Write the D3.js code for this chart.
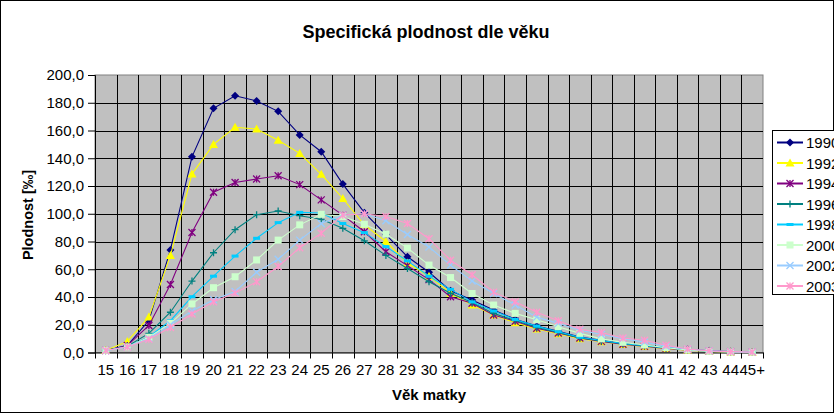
<!DOCTYPE html>
<html>
<head>
<meta charset="utf-8">
<script src="https://cdn.jsdelivr.net/npm/d3@7"></script>
<style>
  body { margin: 0; background: #fff; }
  svg { font-family: Arial, "Liberation Sans", sans-serif; }
</style>
</head>
<body>
<div id="chart"></div>
<script>
const ages = ["15","16","17","18","19","20","21","22","23","24","25","26","27","28","29","30",
  "31","32","33","34","35","36","37","38","39","40","41","42","43","44","45+"];
const years = ["1990","1992","1994","1996","1998","2000","2002","2003"];
const yTicks = [0, 20, 40, 60, 80, 100, 120, 140, 160, 180, 200];

const v1990 = [1.5,5,23,73.9,141,176,185,181.3,173.8,156.8,144.7,121.4,100.8,85,69,57.8,44.5,37.8,30.6,24,19,15.3,11.2,8.8,6.7,5.1,3.6,2.3,1.3,0.7,0.4];
const v1992 = [1.5,8,25.5,70,128.6,150,162.3,161,153,143.5,128.4,111,92,80,64.5,55,42.7,34.2,27,21.5,17,13.5,10,7.8,5.8,4.3,2.8,1.6,0.8,0.4,0.2];
const v1994 = [1.5,5,19.5,49,86.5,115.5,122.5,125,127.4,121,110,99,87,72.6,62.6,52.5,40.2,35.5,27,22.5,17.5,14,10.5,8,6,4.5,3,1.8,1,0.5,0.3];
const v1996 = [1.5,4.5,13.8,29,51.5,71.9,88.5,99.3,102,98.6,96,89.5,80.5,70,60.5,51,42.7,36,28.2,23,18,14.5,10.5,8.3,6.3,4.8,3.3,2,1,0.5,0.3];
const v1998 = [1.5,4,11.4,22.9,40.2,55,69.5,82.3,93.6,101,100.5,93,86.4,76.3,66,55,45.5,36.5,29.9,23.8,19,15,11,8.7,6.5,5,3.5,2,1,0.5,0.3];
const v2000 = [1.5,4,11,21,35,46.7,54.6,66.7,81,92,99.6,98,92.4,85.3,75.3,63,54,42.5,34.2,28.2,23.6,18.6,13.8,9.8,7.3,5.4,3.5,1.8,0.8,0.4,0.2];
const v2002 = [1.5,4,10,20,30,38,44,57.8,67.2,81,93,99,100,95,85,76,63,51.5,42.5,34.2,25.5,21,16,13,10,7.5,4.5,2.3,1.2,0.6,0.3];
const v2003 = [1.5,4,9.5,18,27.7,36.6,42.8,51,62,75.5,86,99,100,98,93,82,66.5,56,43.5,36.6,29,22.9,16.8,14.4,10.5,8.8,5.2,2.5,1.2,0.6,0.3];
const seriesValues = [v1990, v1992, v1994, v1996, v1998, v2000, v2002, v2003];

const colors = ["#000080", "#ffff00", "#800080", "#008080", "#00ccff", "#ccffcc", "#99ccff", "#ff99cc"];
const markers = ["diamond", "triangle", "star", "plus", "dash", "square", "cross", "star"];

const width = 834, height = 413;
const plot = { left: 95, right: 763, top: 75, bottom: 352.5 };
const font = "Arial, 'Liberation Sans', sans-serif";

const svg = d3.select("#chart").append("svg")
  .attr("width", width).attr("height", height);

// rámeček grafu
svg.append("rect").attr("x", 0.5).attr("y", 0.5)
  .attr("width", width - 1).attr("height", height - 1)
  .attr("fill", "#fff").attr("stroke", "#000");

const x = d3.scaleBand().domain(ages).range([plot.left, plot.right]);
const y = d3.scaleLinear().domain([0, 200]).range([plot.bottom, plot.top]);

// plocha grafu
svg.append("rect")
  .attr("x", plot.left).attr("y", plot.top)
  .attr("width", plot.right - plot.left).attr("height", plot.bottom - plot.top)
  .attr("fill", "#c0c0c0").attr("stroke", "#808080");

// mřížka
const grid = svg.append("g").attr("stroke", "#000").attr("stroke-width", 1);
grid.selectAll("line.h").data(yTicks.filter(d => d > 0 && d < 200)).enter().append("line")
  .attr("x1", plot.left).attr("x2", plot.right)
  .attr("y1", d => Math.round(y(d)) + 0.5).attr("y2", d => Math.round(y(d)) + 0.5);
grid.selectAll("line.v").data(ages.slice(1)).enter().append("line")
  .attr("x1", d => Math.round(x(d)) + 0.5).attr("x2", d => Math.round(x(d)) + 0.5)
  .attr("y1", plot.top).attr("y2", plot.bottom);

// osa y
const yAxis = svg.append("g").attr("transform", `translate(${plot.left},0)`)
  .call(d3.axisLeft(y).tickValues(yTicks).tickSize(7).tickPadding(4)
    .tickFormat(d => d.toFixed(1).replace(".", ",")));
yAxis.select(".domain").attr("stroke", "#000");
yAxis.selectAll("text").attr("font-size", "15px").attr("fill", "#000").attr("font-family", font);

// osa x
const xAxis = svg.append("g").attr("transform", `translate(0,${plot.bottom})`)
  .call(d3.axisBottom(x).tickSize(0).tickPadding(12));
xAxis.select(".domain").attr("stroke", "#000");
xAxis.selectAll("text").attr("font-size", "15px").attr("fill", "#000").attr("font-family", font);
xAxis.selectAll("line.b").data(ages.concat(["end"])).enter().append("line")
  .attr("x1", d => (d === "end" ? plot.right : Math.round(x(d))) + 0.5)
  .attr("x2", d => (d === "end" ? plot.right : Math.round(x(d))) + 0.5)
  .attr("y1", 0).attr("y2", 6).attr("stroke", "#000");

// značky
function drawMarker(g, type, color) {
  const s = 3.5;
  if (type === "diamond") {
    g.append("path").attr("d", `M0,${-s - 0.5}L${s + 0.5},0L0,${s + 0.5}L${-s - 0.5},0Z`).attr("fill", color);
  } else if (type === "triangle") {
    g.append("path").attr("d", `M0,${-s - 1}L${s + 1},${s}L${-s - 1},${s}Z`).attr("fill", color);
  } else if (type === "square") {
    g.append("rect").attr("x", -s).attr("y", -s).attr("width", 2 * s).attr("height", 2 * s).attr("fill", color);
  } else if (type === "plus") {
    g.append("path").attr("d", `M${-s},0H${s}M0,${-s}V${s}`).attr("stroke", color).attr("stroke-width", 1.3);
  } else if (type === "cross") {
    g.append("path").attr("d", `M${-s},${-s}L${s},${s}M${-s},${s}L${s},${-s}`).attr("stroke", color).attr("stroke-width", 1.3);
  } else if (type === "star") {
    g.append("path").attr("d", `M${-s},${-s}L${s},${s}M${-s},${s}L${s},${-s}M0,${-s}V${s}`).attr("stroke", color).attr("stroke-width", 1.3);
  } else if (type === "dash") {
    g.append("rect").attr("x", -s).attr("y", -1.5).attr("width", 2 * s).attr("height", 3).attr("fill", color);
  }
}

// řady
const line = d3.line().x((d, i) => x(ages[i]) + x.bandwidth() / 2).y(d => y(d));
seriesValues.forEach((vals, si) => {
  const g = svg.append("g");
  g.append("path").datum(vals).attr("d", line)
    .attr("fill", "none").attr("stroke", colors[si]).attr("stroke-width", 1.1);
  vals.forEach((v, i) => {
    const m = g.append("g")
      .attr("transform", `translate(${x(ages[i]) + x.bandwidth() / 2},${y(v)})`);
    drawMarker(m, markers[si], colors[si]);
  });
});

// nadpisy
svg.append("text").attr("x", 426).attr("y", 38).attr("text-anchor", "middle")
  .attr("font-size", "18px").attr("font-weight", "bold").text("Specifická plodnost dle věku");
svg.append("text").attr("transform", "translate(33,215) rotate(-90)").attr("text-anchor", "middle")
  .attr("font-size", "14.5px").attr("font-weight", "bold").text("Plodnost [‰]");
svg.append("text").attr("x", 429).attr("y", 400).attr("text-anchor", "middle")
  .attr("font-size", "15px").attr("font-weight", "bold").text("Věk matky");

// legenda
const legend = svg.append("g").attr("transform", "translate(772,130)");
legend.append("rect").attr("x", 0.5).attr("y", 0.5).attr("width", 80).attr("height", 164)
  .attr("fill", "#fff").attr("stroke", "#000");
years.forEach((yr, i) => {
  const ly = 12.5 + i * 20.5;
  const row = legend.append("g").attr("transform", `translate(0,${ly})`);
  row.append("line").attr("x1", 5).attr("x2", 31).attr("y1", 0).attr("y2", 0)
    .attr("stroke", colors[i]).attr("stroke-width", 2);
  const m = row.append("g").attr("transform", "translate(18,0)");
  drawMarker(m, markers[i], colors[i]);
  row.append("text").attr("x", 34).attr("y", 5.5).attr("font-size", "15px").text(yr);
});
</script>
</body>
</html>
